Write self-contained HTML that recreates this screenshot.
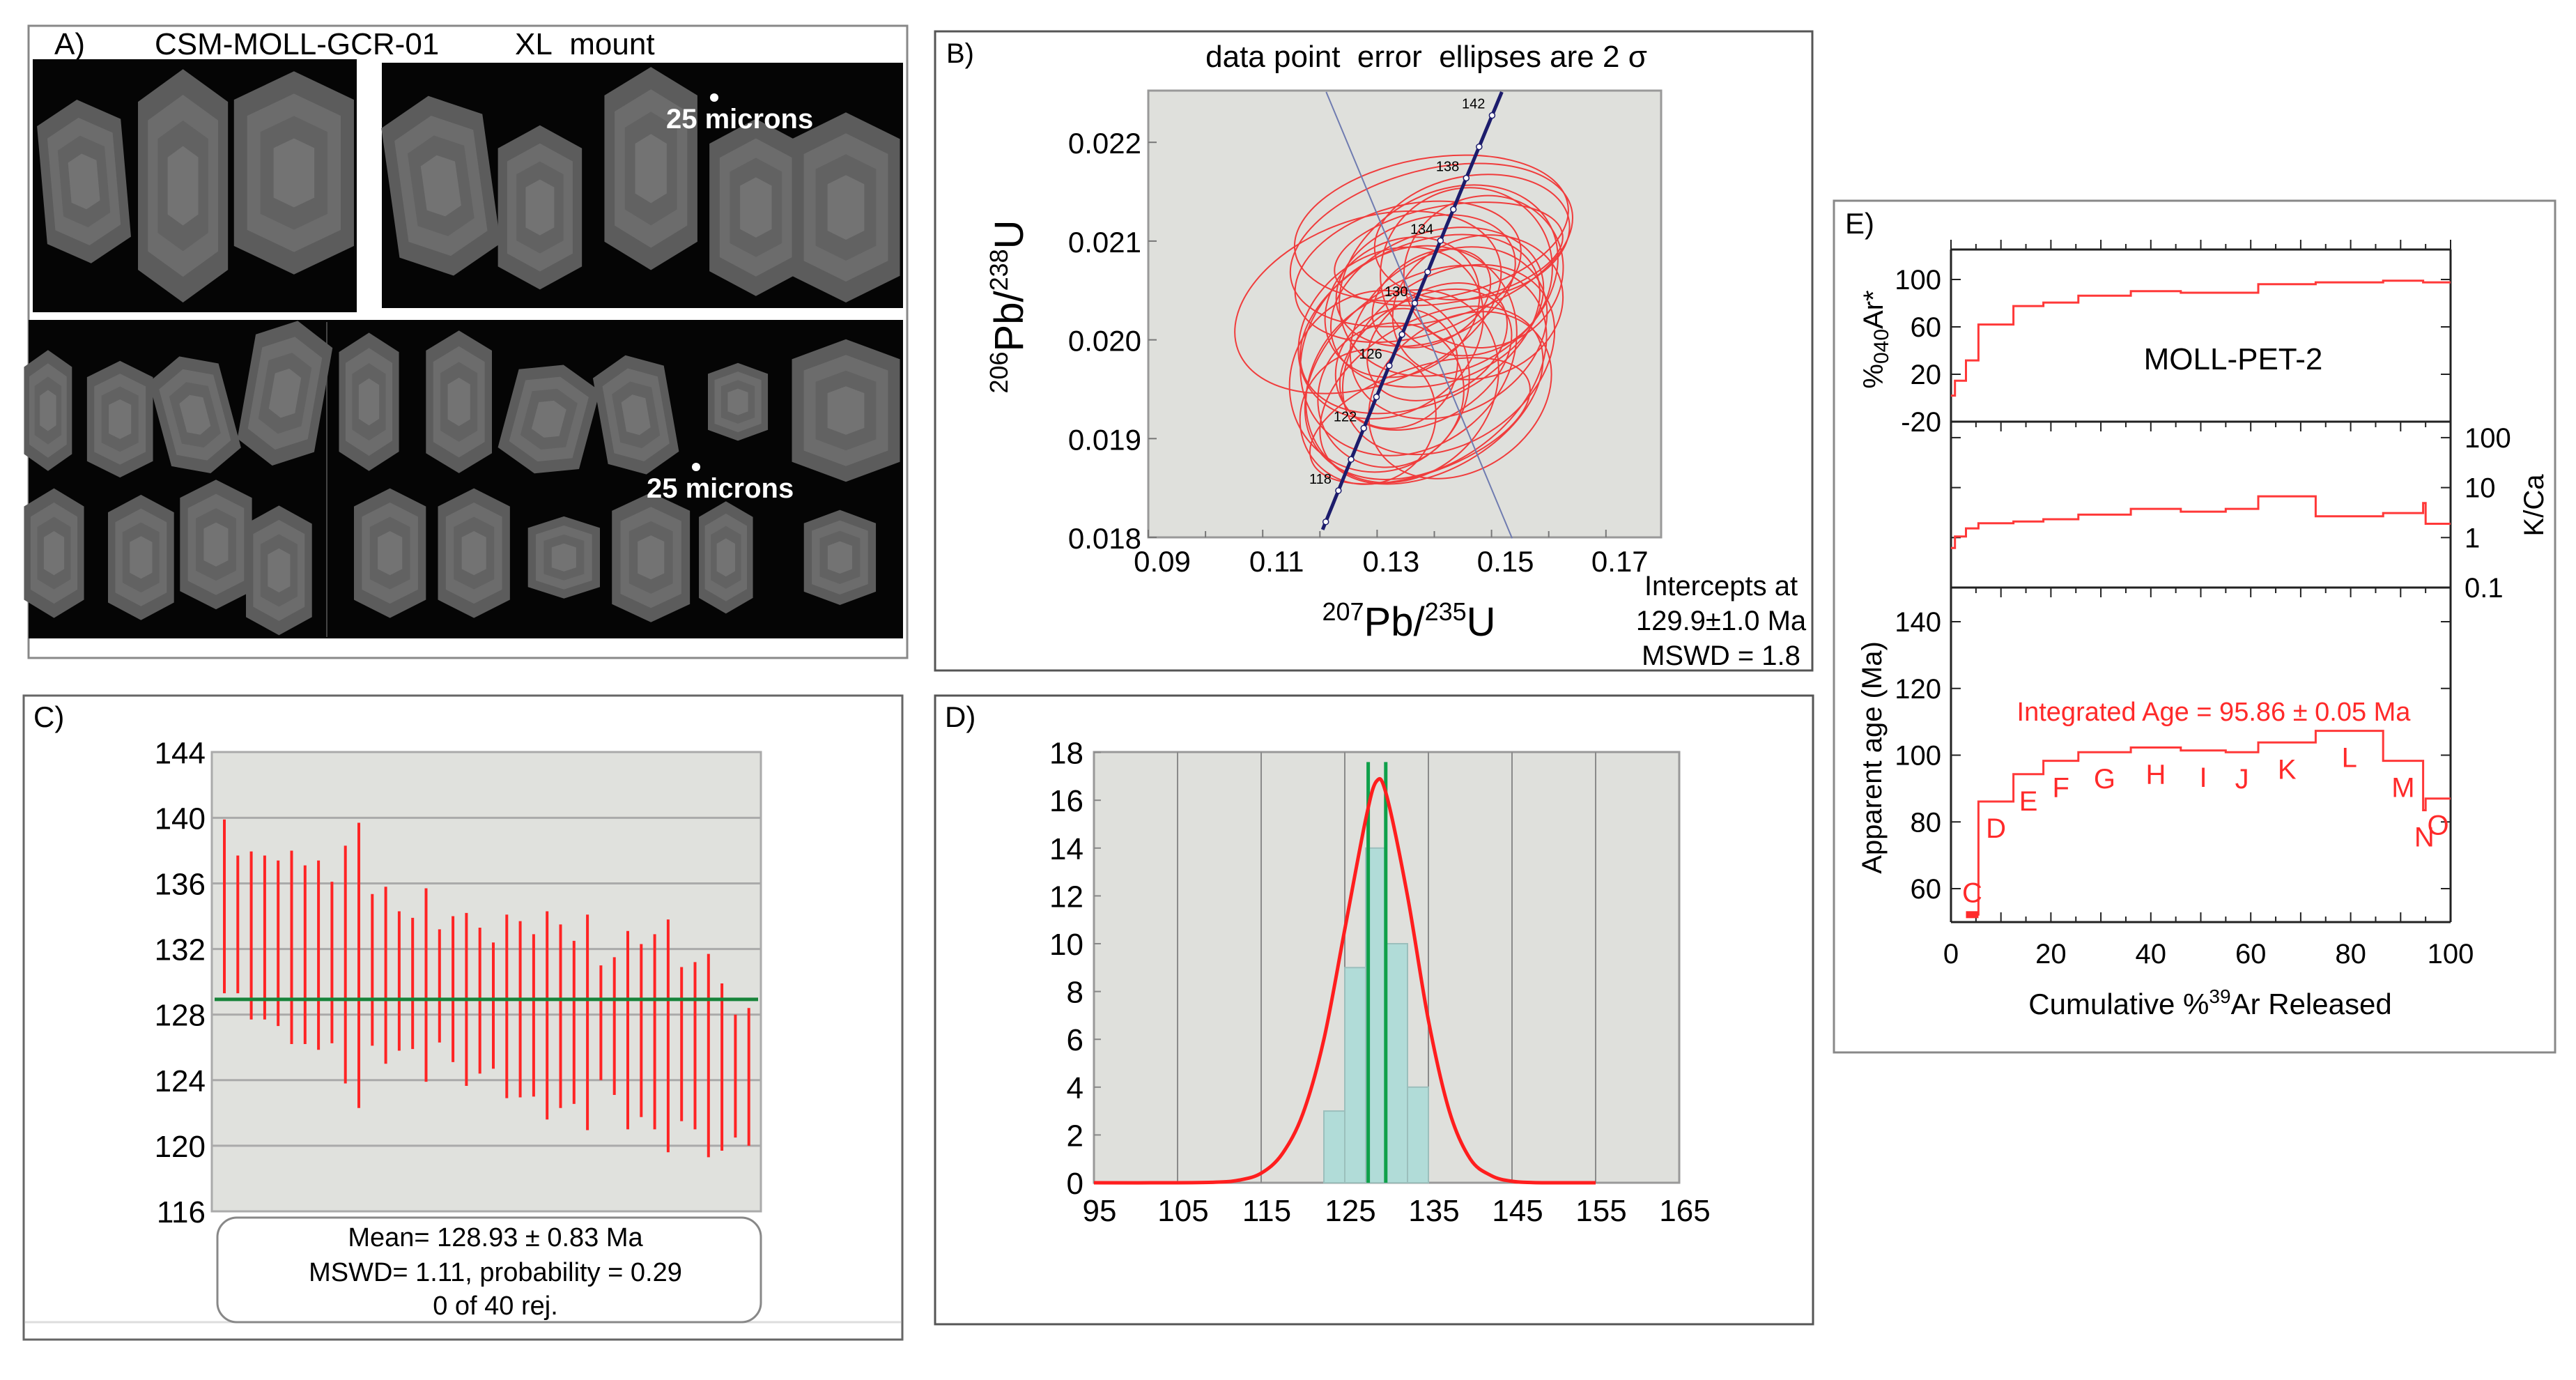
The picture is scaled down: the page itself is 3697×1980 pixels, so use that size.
<!DOCTYPE html>
<html><head><meta charset="utf-8"><style>
html,body{margin:0;padding:0;background:#fff;}
svg{display:block;font-family:"Liberation Sans",sans-serif;}
</style></head><body>
<svg id="fig" xmlns="http://www.w3.org/2000/svg" width="3697" height="1980" viewBox="0 0 3697 1980">
<rect x="0" y="0" width="3697" height="1980" fill="#fff"/>
<!-- Panel A -->
<g id="pA">
<rect x="41" y="37" width="1261" height="907" fill="#fff" stroke="#888" stroke-width="3"/>
<text x="78" y="78" font-size="44">A)</text>
<text x="222" y="78" font-size="44">CSM-MOLL-GCR-01</text>
<text x="739" y="78" font-size="44">XL&#160; mount</text>
<rect x="47" y="85" width="465" height="363" fill="#050505"/>
<rect x="548" y="90" width="748" height="352" fill="#050505"/>
<rect x="41" y="459" width="1255" height="457" fill="#050505"/>
<line x1="469" y1="462" x2="469" y2="914" stroke="#444" stroke-width="2"/>
<g id="grains"></g>
<circle cx="1025" cy="140" r="6" fill="#fff"/>
<text x="956" y="184" font-size="40" font-weight="bold" fill="#fff">25 microns</text>
<circle cx="999" cy="670" r="6" fill="#fff"/>
<text x="928" y="714" font-size="40" font-weight="bold" fill="#fff">25 microns</text>
</g>
<!-- Panel B -->
<g id="pB">
<rect x="1342" y="45" width="1259" height="917" fill="#fff" stroke="#555" stroke-width="3"/>
<text x="1358" y="90" font-size="40">B)</text>
<text x="2047" y="96" font-size="44" text-anchor="middle">data point&#160; error&#160; ellipses are 2 σ</text>
<rect x="1648" y="130" width="736" height="641" fill="#dfe0dc" stroke="#999" stroke-width="3"/>
<g id="bAxes"></g>
<g id="bEll"></g>
<g id="bConc"></g>
<text transform="translate(1468,440) rotate(-90)" text-anchor="middle" font-size="58"><tspan font-size="36" dy="-22">206</tspan><tspan dy="22">Pb/</tspan><tspan font-size="36" dy="-22">238</tspan><tspan dy="22">U</tspan></text>
<text x="2022" y="912" text-anchor="middle" font-size="58"><tspan font-size="36" dy="-22">207</tspan><tspan dy="22">Pb/</tspan><tspan font-size="36" dy="-22">235</tspan><tspan dy="22">U</tspan></text>
<text x="2470" y="854" text-anchor="middle" font-size="40">Intercepts at</text>
<text x="2470" y="904" text-anchor="middle" font-size="40">129.9±1.0 Ma</text>
<text x="2470" y="954" text-anchor="middle" font-size="40">MSWD = 1.8</text>
</g>
<!-- Panel C -->
<g id="pC">
<rect x="34" y="998" width="1261" height="924" fill="#fff" stroke="#666" stroke-width="3"/>
<line x1="36" y1="1897" x2="1293" y2="1897" stroke="#ddd" stroke-width="3"/>
<text x="48" y="1043" font-size="42">C)</text>
<rect x="304" y="1079" width="788" height="659" fill="#e0e1dd" stroke="#aaa" stroke-width="3"/>
<g id="cAxes"></g>
<g id="cBars"></g>
<rect x="312" y="1747" width="780" height="150" rx="28" fill="#fff" stroke="#888" stroke-width="3"/>
<text x="711" y="1788" text-anchor="middle" font-size="38">Mean= 128.93 ± 0.83 Ma</text>
<text x="711" y="1838" text-anchor="middle" font-size="38">MSWD= 1.11, probability = 0.29</text>
<text x="711" y="1886" text-anchor="middle" font-size="38">0 of 40 rej.</text>
</g>
<!-- Panel D -->
<g id="pD">
<rect x="1342" y="998" width="1260" height="902" fill="#fff" stroke="#555" stroke-width="3"/>
<text x="1356" y="1043" font-size="42">D)</text>
<rect x="1570" y="1079" width="840" height="618" fill="#dfe0dc" stroke="#999" stroke-width="3"/>
<g id="dAxes"></g>
<g id="dMarks"></g>
</g>
<!-- Panel E -->
<g id="pE">
<rect x="2632" y="288" width="1035" height="1222" fill="#fff" stroke="#888" stroke-width="3"/>
<text x="2648" y="335" font-size="42">E)</text>
<g id="eAxes"></g>
<g id="eMarks"></g>
<text x="3205" y="530" text-anchor="middle" font-size="44">MOLL-PET-2</text>
<text x="3177" y="1034" text-anchor="middle" font-size="38" fill="#ff2a2a">Integrated Age = 95.86 ± 0.05 Ma</text>
<text transform="translate(2702,487) rotate(-90)" text-anchor="middle" font-size="40">%<tspan font-size="30" dy="8">040</tspan><tspan dy="-8">Ar*</tspan></text>
<text transform="translate(2700,1087) rotate(-90)" text-anchor="middle" font-size="40">Apparent age (Ma)</text>
<text transform="translate(3650,725) rotate(-90)" text-anchor="middle" font-size="40">K/Ca</text>
<text x="3172" y="1455" text-anchor="middle" font-size="42">Cumulative %<tspan font-size="28" dy="-16">39</tspan><tspan dy="16">Ar Released</tspan></text>
</g>
</svg>
<script>
// ---------- Panel B data ----------
const ellCx=[0.1284,0.1395,0.1395,0.1425,0.1375,0.1355,0.1385,0.1344,0.1405,0.1425,0.1324,0.1385,0.1456,0.1304,0.1395,0.1425,0.1476,0.1344,0.1375,0.1284,0.1466,0.1405,0.1354,0.1445,0.1395,0.1334,0.1486,0.1324,0.1425,0.1385];
const ellCy=[0.02038,0.02096,0.02113,0.02060,0.02016,0.01989,0.01967,0.01953,0.02033,0.02007,0.02007,0.02060,0.02069,0.01958,0.01944,0.01980,0.02033,0.02033,0.01918,0.01922,0.02104,0.01998,0.02069,0.01944,0.02042,0.01971,0.02069,0.01944,0.02087,0.01980];
const ellEx=[0.0242,0.0253,0.0242,0.0202,0.0222,0.0202,0.0232,0.0182,0.0192,0.0182,0.0172,0.0162,0.0152,0.0162,0.0212,0.0202,0.0152,0.0141,0.0202,0.0121,0.0172,0.0131,0.0202,0.0172,0.0111,0.0111,0.0141,0.0131,0.0202,0.0162];
const ellEy=[0.00084,0.00076,0.00071,0.00089,0.00080,0.00098,0.00093,0.00089,0.00076,0.00080,0.00080,0.00062,0.00084,0.00089,0.00076,0.00084,0.00071,0.00067,0.00053,0.00067,0.00062,0.00053,0.00067,0.00076,0.00044,0.00058,0.00076,0.00071,0.00049,0.00062];
const ellTilt=[20,15,10,30,25,40,35,45,20,30,35,20,30,50,30,35,20,30,20,40,10,30,15,35,30,40,25,40,10,30];
const concAges=[116,118,120,122,124,126,128,130,132,134,136,138,140,142,144];
const concLabelAges=[118,122,126,130,134,138,142];
const bXTicks=[0.09,0.11,0.13,0.15,0.17];
const bYTicks=[0.018,0.019,0.020,0.021,0.022];
const regrX=[0.1211,0.1536];
const regrY=[0.02251,0.01799];
// ---------- Panel C data ----------
const cTop=[139.9,137.7,137.95,137.7,137.4,138.0,137.1,137.4,136.1,138.3,139.7,135.35,135.8,134.3,133.9,135.7,133.2,134.0,134.2,133.3,132.4,134.1,133.7,132.9,134.3,133.5,132.5,134.1,131.0,131.5,133.1,132.3,132.9,133.8,130.9,131.2,131.7,129.9,128.0,128.4];
const cBot=[129.3,129.3,127.7,127.7,127.3,126.2,126.2,125.85,126.25,123.8,122.3,126.1,125.0,125.8,125.9,123.9,126.3,125.1,123.65,124.4,124.7,122.9,122.95,123.0,121.6,122.3,122.55,120.95,124.0,123.1,121.0,121.75,121.0,119.6,121.5,121.0,119.3,119.7,120.5,120.0];
const cMean=[128.93];
const cTicks=[116,120,124,128,132,136,140,144];
// ---------- Panel D data ----------
const binLo=[122.5,125,127.5,130,132.5];
const binHi=[125,127.5,130,132.5,135];
const binCount=[3,9,14,10,4];
const meanLines=[127.8,129.9];
const curveX=[95,105,110,112.5,115,117.5,120,122.5,125,127.5,128.8,130,132.5,135,137.5,140,142.5,145,147.5,150,155];
const curveY=[0,0,0.03,0.12,0.4,1.2,2.9,6.0,10.6,15.2,16.8,16.2,12.0,6.8,3.0,1.0,0.3,0.06,0.01,0,0];
const dXTicks=[95,105,115,125,135,145,155,165];
const dYTicks=[0,2,4,6,8,10,12,14,16,18];
// ---------- Panel E data ----------
const stepEdges=[0,0.8,3,5.5,12.5,18.5,25.5,36,46,55,61.5,73,86.5,94.5,95,100];
const stepAr40=[2,14.6,31.7,62,77.6,80.5,86.3,90.2,88.8,88.8,96,97.6,99,97.6,97.6];
const stepKCa=[0.62,1.05,1.53,1.94,2.1,2.33,2.88,3.75,3.3,3.75,6.7,2.66,3.1,4.9,1.89];
const stepAge=[null,null,52.2,86.1,94.3,98.3,100.9,102.3,101.4,100.9,103.8,107.3,98.3,83.5,87.0];
const stepLabel=[null,null,'C','D','E','F','G','H','I','J','K','L','M','N','O'];
const eXTicks=[0,20,40,60,80,100];
const eArTicks=[-20,20,60,100];
const eKCaTicks=[0.1,1,10,100];
const eAgeTicks=[60,80,100,120,140];

const NS='http://www.w3.org/2000/svg';
function mk(tag,a,parent){const e=document.createElementNS(NS,tag);for(const k in a)e.setAttribute(k,a[k]);parent.appendChild(e);return e;}
function txt(s,a,parent){const e=mk('text',a,parent);e.textContent=s;return e;}

// ---- Panel A grains (decorative image content) ----
(function(){
  const g=document.getElementById('grains');
  const gr=[[140,420,140,380,-5],[305,430,150,540,0],[490,400,200,470,0],[735,430,170,420,-8],[900,480,140,380,0],[1085,390,155,470,0],[1260,480,155,410,0],[1410,480,180,440,0],
  [80,950,80,280,0],[200,970,110,270,0],[325,960,120,280,-15],[475,910,130,340,10],[615,930,100,320,0],[765,930,110,330,0],[915,970,140,260,15],[1060,960,120,280,-10],[1230,930,100,180,0],[1410,950,180,330,0],
  [90,1280,100,300,0],[235,1290,110,290,0],[360,1260,120,300,0],[465,1320,110,300,0],[650,1280,120,300,0],[790,1280,120,300,0],[940,1290,120,190,0],[1085,1290,130,300,0],[1210,1290,90,260,0],[1400,1290,120,220,0]];
  gr.forEach(q=>{
    const cx=q[0]*0.861,cy=q[1]*0.62,w=q[2]*0.861/2,h=q[3]*0.62/2;
    const shades=['#5c5c5c','#6c6c6c','#626262','#737373'];
    for(let k=0;k<4;k++){
      const f=1-k*0.22,ww=w*f,hh=h*f,c=hh*0.28;
      const pts=[[cx,cy-hh],[cx+ww,cy-hh+c],[cx+ww,cy+hh-c],[cx,cy+hh],[cx-ww,cy+hh-c],[cx-ww,cy-hh+c]].map(p=>p.join(',')).join(' ');
      const p=mk('polygon',{points:pts,fill:shades[k],transform:`rotate(${q[4]},${cx},${cy})`},g);
      
      
    }
  });
})();

// ---- Panel B ----
const bx=v=>1648+(v-0.09)/0.01*82.1;
const by=v=>771-(v-0.018)/0.001*141.7;
(function(){
  const ax=document.getElementById('bAxes');
  bXTicks.forEach(t=>{
    const l=mk('line',{x1:bx(t),y1:771,x2:bx(t),y2:760,stroke:'#777','stroke-width':2},ax);
    
    
    const s=txt(t.toFixed(2),{x:bx(t)+20,y:820,'font-size':42,'text-anchor':'middle'},ax);
    
    
  });
  for(let t=0.10;t<0.18;t+=0.02){
    const l=mk('line',{x1:bx(t),y1:771,x2:bx(t),y2:762,stroke:'#777','stroke-width':2},ax);
    
    
  }
  bYTicks.forEach(t=>{
    const l=mk('line',{x1:1648,y1:by(t),x2:1660,y2:by(t),stroke:'#777','stroke-width':2},ax);
    
    
    const s=txt(t.toFixed(3),{x:1638,y:by(t)+16,'font-size':42,'text-anchor':'end'},ax);
    
    
  });
  const eg=document.getElementById('bEll');
  ellCx.forEach((c,i)=>{
    const cx=bx(c),cy=by(ellCy[i]);
    const e=mk('ellipse',{cx:cx,cy:cy,rx:ellEx[i]/0.01*82.1,ry:ellEy[i]/0.001*141.7,fill:'none',stroke:'#f03c3c','stroke-width':2,transform:`rotate(${-ellTilt[i]},${cx},${cy})`},eg);
    
    
  });
  const cg=document.getElementById('bConc');
  const rl=mk('line',{x1:bx(regrX[0]),y1:by(regrY[0]),x2:bx(regrX[1]),y2:by(regrY[1]),stroke:'#6f7bb0','stroke-width':2},cg);
  
  
  const L238=1.55125e-4,L235=9.8485e-4;
  const cp=t=>[bx(Math.exp(L235*t)-1),by(Math.exp(L238*t)-1)];
  let d='';
  for(let t=114.5;t<=145.6;t+=0.5){const p=cp(t);if(p[1]<130||p[1]>771)continue;d+=(d?'L':'M')+p[0].toFixed(1)+','+p[1].toFixed(1);}
  const cl=mk('path',{d:d,fill:'none',stroke:'#1c1c6c','stroke-width':5},cg);
  
  
  concAges.forEach(t=>{
    const p=cp(t);if(p[1]<130||p[1]>771)return;
    const c=mk('circle',{cx:p[0],cy:p[1],r:4,fill:'#fff',stroke:'#1c1c6c','stroke-width':1.5},cg);
    
    
  });
  concLabelAges.forEach(t=>{
    const p=cp(t);
    const s=txt(String(t),{x:p[0]-10,y:p[1]-10,'font-size':20,'text-anchor':'end'},cg);
    
    
  });
})();

// ---- Panel C ----
const cy=v=>1738-(v-116)/4*94.1;
const cx=i=>322+i*19.3;
(function(){
  const ax=document.getElementById('cAxes');
  cTicks.forEach(t=>{
    if(t>116&&t<144){
      const l=mk('line',{x1:304,y1:cy(t),x2:1092,y2:cy(t),stroke:'#aaa','stroke-width':3},ax);
      
      
    }
    const s=txt(String(t),{x:295,y:cy(t)+16,'font-size':44,'text-anchor':'end'},ax);
    
    
  });
  const bg=document.getElementById('cBars');
  cTop.forEach((v,i)=>{
    const l=mk('line',{x1:cx(i),y1:cy(v),x2:cx(i),y2:cy(cBot[i]),stroke:'#ff2424','stroke-width':4},bg);
    
    
  });
  const m=mk('line',{x1:308,y1:cy(cMean[0]),x2:1088,y2:cy(cMean[0]),stroke:'#17843a','stroke-width':5},bg);
  
  
})();

// ---- Panel D ----
const dx=v=>1570+(v-95)/10*120;
const dy=v=>1697-v*34.3;
(function(){
  const ax=document.getElementById('dAxes');
  dXTicks.forEach(t=>{
    if(t>95&&t<165){
      const l=mk('line',{x1:dx(t),y1:1079,x2:dx(t),y2:1697,stroke:'#8a8a8a','stroke-width':2},ax);
      
      
    }
    const s=txt(String(t),{x:dx(t)+8,y:1752,'font-size':44,'text-anchor':'middle'},ax);
    
    
  });
  dYTicks.forEach(t=>{
    const s=txt(String(t),{x:1555,y:dy(t)+16,'font-size':44,'text-anchor':'end'},ax);
    
    
    const l=mk('line',{x1:1570,y1:dy(t),x2:1580,y2:dy(t),stroke:'#888','stroke-width':2},ax);
    
    
  });
  const g=document.getElementById('dMarks');
  binCount.forEach((c,i)=>{
    const r=mk('rect',{x:dx(binLo[i]),y:dy(c),width:dx(binHi[i])-dx(binLo[i]),height:dy(0)-dy(c),fill:'#b1dcd8',stroke:'#9bbfbc','stroke-width':2},g);
    
    
  });
  meanLines.forEach(v=>{
    const l=mk('line',{x1:dx(v),y1:dy(0),x2:dx(v),y2:dy(17.6),stroke:'#0fa04a','stroke-width':5},g);
    
    
  });
  const P=curveX.map((x,i)=>[dx(x),dy(curveY[i])]);
  let d='M'+P[0][0]+','+P[0][1];
  for(let i=0;i<P.length-1;i++){
    const p0=P[Math.max(0,i-1)],p1=P[i],p2=P[i+1],p3=P[Math.min(P.length-1,i+2)];
    const c1=[p1[0]+(p2[0]-p0[0])/6,p1[1]+(p2[1]-p0[1])/6],c2=[p2[0]-(p3[0]-p1[0])/6,p2[1]-(p3[1]-p1[1])/6];
    d+=`C${c1[0].toFixed(1)},${c1[1].toFixed(1)} ${c2[0].toFixed(1)},${c2[1].toFixed(1)} ${p2[0].toFixed(1)},${p2[1].toFixed(1)}`;
  }
  const c=mk('path',{d:d,fill:'none',stroke:'#ff1e1e','stroke-width':5},g);
  
  
})();

// ---- Panel E ----
const ex=v=>2800+v/100*717;
const eyAr=v=>605-(v+20)*1.7;
const eyK=v=>843-(Math.log10(v)+1)*71.7;
const eyAge=v=>1275-(v-60)/20*95.75;
(function(){
  const ax=document.getElementById('eAxes');
  [[2800,358,3517,358],[2800,605,3517,605],[2800,843,3517,843],[2800,1323,3517,1323],[2800,358,2800,1323],[3517,358,3517,1323]].forEach(s=>{
    const l=mk('line',{x1:s[0],y1:s[1],x2:s[2],y2:s[3],stroke:'#222','stroke-width':3},ax);
    
    
  });
  for(let v=0;v<=100;v+=5){
    const len=v%10===0?14:8;
    [358,605,843,1323].forEach(y=>{
      const l=mk('line',{x1:ex(v),y1:y,x2:ex(v),y2:y===358?y-len:y+(y===1323?-len:len),stroke:'#222','stroke-width':2},ax);
      
      
    });
  }
  eXTicks.forEach(t=>{
    const s=txt(String(t),{x:ex(t),y:1382,'font-size':40,'text-anchor':'middle'},ax);
    
    
  });
  eArTicks.forEach(t=>{
    const s=txt(String(t),{x:2786,y:eyAr(t)+14,'font-size':40,'text-anchor':'end'},ax);
    
    
    [[2800,2814],[3517,3503]].forEach(a=>{
      const l=mk('line',{x1:a[0],y1:eyAr(t),x2:a[1],y2:eyAr(t),stroke:'#222','stroke-width':2},ax);
      
      
    });
  });
  eKCaTicks.forEach(t=>{
    const s=txt(String(t),{x:3537,y:eyK(t)+14,'font-size':40,'text-anchor':'start'},ax);
    
    
    [[2800,2814],[3517,3503]].forEach(a=>{
      const l=mk('line',{x1:a[0],y1:eyK(t),x2:a[1],y2:eyK(t),stroke:'#222','stroke-width':2},ax);
      
      
    });
  });
  eAgeTicks.forEach(t=>{
    const s=txt(String(t),{x:2786,y:eyAge(t)+14,'font-size':40,'text-anchor':'end'},ax);
    
    
    [[2800,2814],[3517,3503]].forEach(a=>{
      const l=mk('line',{x1:a[0],y1:eyAge(t),x2:a[1],y2:eyAge(t),stroke:'#222','stroke-width':2},ax);
      
      
    });
  });
  const g=document.getElementById('eMarks');
  function stepPath(vals,fy){
    let d='';
    vals.forEach((v,i)=>{
      if(v===null)return;
      const x0=ex(stepEdges[i]),x1=ex(stepEdges[i+1]),y=fy(v);
      d+=(d?'L':'M')+x0.toFixed(1)+','+y.toFixed(1)+'L'+x1.toFixed(1)+','+y.toFixed(1);
    });
    return d;
  }
  const p1=mk('path',{d:stepPath(stepAr40,eyAr),fill:'none',stroke:'#ff3838','stroke-width':3},g);
  
  
  const p2=mk('path',{d:stepPath(stepKCa,eyK),fill:'none',stroke:'#ff3838','stroke-width':3},g);
  
  
  const p3=mk('path',{d:stepPath(stepAge,eyAge),fill:'none',stroke:'#ff3838','stroke-width':3},g);
  
  
  const cb=mk('rect',{x:ex(stepEdges[2]),y:eyAge(stepAge[2])-5,width:ex(stepEdges[3])-ex(stepEdges[2]),height:10,fill:'#ff2a2a'},g);
  
  
  stepLabel.forEach((s,i)=>{
    if(!s)return;
    const xm=ex((stepEdges[i]+stepEdges[i+1])/2);
    const yy=s==='C'?eyAge(stepAge[i])-18:eyAge(stepAge[i])+52;
    const t=txt(s,{x:xm,y:yy,'font-size':40,'text-anchor':'middle',fill:'#ff2a2a'},g);
    
    
  });
})();
</script>
</body></html>
